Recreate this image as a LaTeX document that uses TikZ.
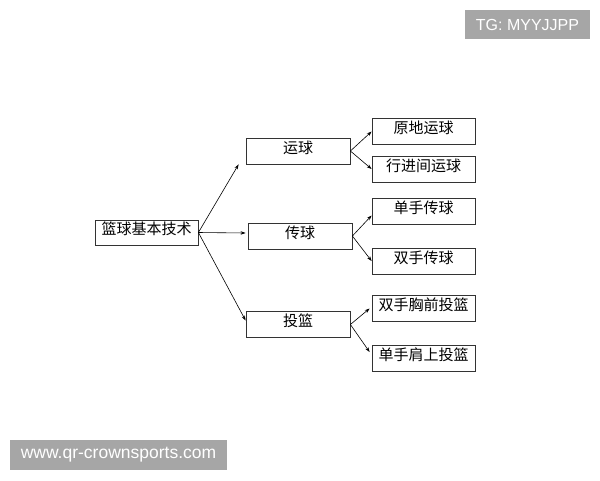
\documentclass[tikz,border=0pt]{standalone}
\usepackage{fontspec}
\newfontfamily\cjk{Noto Sans CJK SC}
\newfontfamily\wmfont{Liberation Sans}
\usetikzlibrary{arrows.meta}

\tikzset{
  topic/.style={draw=black!80, line width=0.8pt, inner sep=0pt, minimum width=104pt,
    font=\cjk\fontsize{15}{15}\selectfont, text height=15pt, text depth=11pt},
  conn/.style={->, line width=0.6pt},
  wmark/.style={fill=black!35, text=white, inner sep=0pt}
}

\begin{document}
\begin{tikzpicture}[x=1pt, y=-1pt, >={Stealth[length=5pt,width=3.5pt]}]
    \useasboundingbox (0,0) rectangle (600,480);

    % root
    \node[topic, minimum width=103pt, text height=14pt] (root) at (146.5,232.5) {篮球基本技术};

    % first level
    \node[topic] (yun)   at (298,151)   {运球};
    \node[topic] (chuan) at (300,236)   {传球};
    \node[topic] (tou)   at (298,324.5) {投篮};

    % second level
    \node[topic, minimum width=103pt] (yuandi)  at (423.5,131.5) {原地运球};
    \node[topic, minimum width=103pt] (xingjin) at (423.5,169)   {行进间运球};
    \node[topic, minimum width=103pt] (danchuan) at (423.5,211.5) {单手传球};
    \node[topic, minimum width=103pt] (shuangchuan) at (423.5,261) {双手传球};
    \node[topic, minimum width=103pt] (xiongqian) at (423.5,308.5) {双手胸前投篮};
    \node[topic, minimum width=103pt] (jianshang) at (423.5,358)  {单手肩上投篮};

    \draw[conn] (root.east) -- ([xshift=-7pt]yun.south west);
    \draw[conn] (root.east) -- ([xshift=-2pt,yshift=3pt]chuan.west);
    \draw[conn] (root.east) -- ([yshift=4pt]tou.west);

    \draw[conn] (yun.east) -- (yuandi.west);
    \draw[conn] (yun.east) -- (xingjin.west);
    \draw[conn] (chuan.east) -- ([yshift=-4pt]danchuan.west);
    \draw[conn] (chuan.east) -- (shuangchuan.west);
    \draw[conn] (tou.east) -- ([xshift=-2pt]xiongqian.west);
    \draw[conn] (tou.east) -- ([xshift=-2pt,yshift=6pt]jianshang.west);

    % watermarks
    \node[wmark, minimum width=125pt, minimum height=29pt, font=\wmfont\fontsize{16}{16}\selectfont] (tg) at (527.5,24.5) {TG: MYYJJPP};
    \node[wmark, minimum width=217pt, minimum height=30pt, font=\wmfont\fontsize{17.5}{17.5}\selectfont] (site) at (118.5,455) {www.qr-crownsports.com};
\end{tikzpicture}
\end{document}
